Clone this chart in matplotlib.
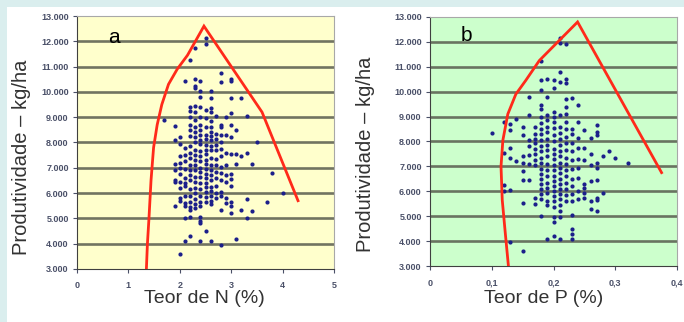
import numpy as np
import matplotlib
matplotlib.use("Agg")
import matplotlib.pyplot as plt
from matplotlib.patches import Rectangle
from matplotlib.ticker import FuncFormatter

plt.rcParams['font.family'] = ['Liberation Sans', 'DejaVu Sans']

# Panel a - N (%) columns and yields (kg/ha)
n_cols = [1.7, 1.9, 2.0, 2.1, 2.2, 2.3, 2.4, 2.5, 2.6, 2.7, 2.8, 2.9,
          3.0, 3.1, 3.2, 3.3, 3.4, 3.5, 3.7, 3.8, 4.0]
n_prod = [
    [8900],
    [8650, 8100, 7150, 6900, 6500, 6450, 5500],
    [8200, 7950, 7450, 7200, 7000, 6750, 6450, 6200, 5800, 5700, 3600],
    [10450, 7800, 7500, 7250, 6950, 6600, 6400, 6300, 5900, 5600, 5500, 5000, 4100],
    [11250, 9400, 9250, 9000, 8700, 8500, 8250, 7850, 7600, 7400, 7100, 6900,
     6700, 6500, 6150, 5900, 5650, 5450, 5350, 5050, 4300],
    [11750, 10500, 10250, 10150, 9450, 9200, 8900, 8600, 8400, 8200, 8000, 7700,
     7500, 7300, 7100, 6900, 6650, 6450, 6200, 6000, 5750, 5550, 5400],
    [10450, 10050, 9800, 9400, 9000, 8700, 8500, 8300, 8100, 7950, 7650, 7450,
     7250, 7000, 6850, 6650, 6400, 6150, 5900, 5650, 5500, 5050, 4900, 4800, 4100],
    [12150, 11900, 9300, 8950, 8600, 8300, 8150, 7900, 7700, 7550, 7300, 7150,
     6950, 6750, 6600, 6400, 6250, 6050, 5850, 5650, 4500],
    [10050, 9750, 9350, 9200, 8850, 8600, 8400, 8250, 8100, 7850, 7700, 7400,
     7100, 6900, 6700, 6500, 6250, 6100, 5900, 5700, 5550, 4100],
    [9050, 8350, 8150, 7900, 7700, 7350, 7100, 6850, 6600, 6300, 6000, 5800],
    [10750, 10400, 8700, 8600, 8300, 8000, 7750, 7450, 7050, 6800, 6500, 6050,
     5900, 5350, 3950],
    [9000, 8300, 7600, 7100, 6700, 6450, 5800, 5600],
    [10500, 10450, 9750, 9150, 8700, 8200, 7550, 6750, 6550, 6300, 5650, 5500, 5200],
    [8500, 7550, 7150, 4200],
    [9750, 7450, 5350],
    [9050, 7600, 5750, 5000],
    [7150, 5300],
    [8000],
    [5650],
    [6800],
    [6000],
]

# boundary line a
bound_n_x = [1.35, 1.37, 1.40, 1.44, 1.49, 1.56, 1.65, 1.78, 1.95, 2.15, 2.47, 3.6, 4.3]
bound_n_y = [3000, 4000, 5000, 6500, 7800, 8700, 9500, 10300, 10900, 11450, 12600, 9200, 5700]

# Panel b - P (%) columns and yields (kg/ha)
p_cols = [0.10, 0.12, 0.13, 0.14, 0.15, 0.16, 0.17, 0.18, 0.19, 0.20, 0.21,
          0.22, 0.23, 0.24, 0.25, 0.26, 0.27, 0.28, 0.29, 0.30, 0.32]
p_prod = [
    [8350],
    [8800, 7550, 6250, 6000],
    [8700, 8450, 7750, 7350, 6050, 3950],
    [8900, 7200],
    [8600, 8250, 7400, 7150, 6800, 6450, 5550, 3600],
    [9800, 9050, 8050, 7800, 7450, 7100, 6450],
    [8600, 8300, 8100, 7950, 7700, 7500, 7250, 7050, 5750, 5500],
    [11250, 10450, 10050, 9450, 9300, 9000, 8750, 8500, 8300, 8050, 7800, 7600,
     7350, 7150, 6900, 6700, 6500, 6300, 6100, 5900, 5700, 5000],
    [10500, 9800, 9050, 8850, 8600, 8400, 8100, 7850, 7650, 7400, 7100, 6850,
     6600, 6350, 6150, 5950, 5600, 5450, 4100],
    [10450, 10150, 9200, 9000, 8800, 8550, 8250, 8000, 7700, 7500, 7300, 7050,
     6850, 6600, 6400, 6200, 6000, 5800, 5600, 5350, 4950, 4750, 4200],
    [12150, 11950, 10800, 10400, 9050, 8600, 8350, 8100, 7850, 7600, 7400, 7150,
     6950, 6750, 6500, 6300, 6100, 5900, 5700, 5450, 5200, 4950, 4100],
    [11900, 10500, 10350, 9700, 9400, 9100, 8800, 8500, 8200, 7950, 7650, 7350,
     7100, 6850, 6600, 6350, 6100, 5850, 5600],
    [9750, 8500, 8300, 7950, 7600, 7250, 6900, 6500, 6200, 5900, 5600, 5050,
     4500, 4300, 4100],
    [9450, 8800, 8150, 7750, 7300, 6950, 6550, 6000, 5700],
    [8450, 7750, 7250, 6300, 6150, 5950, 5750],
    [8150, 7500, 7050, 6400, 5600, 5300],
    [8650, 8400, 8250, 7150, 6950, 6450, 5750, 5650, 5200],
    [7400, 5950],
    [7600],
    [7350],
    [7150],
]

# boundary line b
bound_p_x = [0.127, 0.122, 0.117, 0.115, 0.118, 0.126, 0.139, 0.155, 0.177, 0.209, 0.239, 0.375]
bound_p_y = [3000, 4300, 5650, 7000, 8050, 9100, 9900, 10450, 11250, 12050, 12800, 6750]

y_ticks = [3000, 4000, 5000, 6000, 7000, 8000, 9000, 10000, 11000, 12000, 13000]


def flatten(cols, prods):
    xs, ys = [], []
    for c, vals in zip(cols, prods):
        xs += [c] * len(vals)
        ys += vals
    return xs, ys


fig = plt.figure(figsize=(6.84, 3.22), dpi=100, facecolor='#daeeee')
fig.patches.append(Rectangle((7 / 684, 0), 1, 1 - 7 / 322, transform=fig.transFigure,
                             facecolor='white', edgecolor='none', zorder=-10))

ax_a = fig.add_axes([77 / 684, 53 / 322, 257 / 684, 253 / 322])
ax_b = fig.add_axes([430 / 684, 56 / 322, 247 / 684, 249 / 322])

thou = FuncFormatter(lambda v, p: f"{int(v):,}".replace(",", "."))

panels = [
    (ax_a, '#ffffcc', n_cols, n_prod, bound_n_x, bound_n_y, (0, 5), [0, 1, 2, 3, 4, 5],
     'Teor de N (%)', 'a', (0.6, 12150), lambda v, p: f"{v:g}",
     (0.494, -0.082), (-0.18, 0.443)),
    (ax_b, '#ccffcc', p_cols, p_prod, bound_p_x, bound_p_y, (0, 0.4), [0, 0.1, 0.2, 0.3, 0.4],
     'Teor de P (%)', 'b', (0.05, 12250), lambda v, p: f"{v:g}".replace(".", ","),
     (0.46, -0.095), (-0.224, 0.45)),
]

for (ax, face, cols, prods, bx, by, xlim, xt, xlabel, tag, tagpos, xfmt,
     xlab_pos, ylab_pos) in panels:
    ax.set_facecolor(face)
    xs, ys = flatten(cols, prods)
    for yv in y_ticks[1:-1]:
        ax.axhline(yv, color='#585c4e', lw=1.9, alpha=0.85, zorder=1)
    ax.scatter(xs, ys, s=9, color='#1c1f8a', zorder=3, linewidths=0)
    ax.plot(bx, by, color='#ff2a1a', lw=2, zorder=4, solid_joinstyle='miter')
    ax.set_xlim(*xlim)
    ax.set_ylim(3000, 13000)
    ax.set_xticks(xt)
    ax.set_yticks(y_ticks)
    ax.yaxis.set_major_formatter(thou)
    ax.xaxis.set_major_formatter(FuncFormatter(xfmt))
    ax.tick_params(labelsize=6.5, colors='#4a5068', length=3, width=0.8, pad=6)
    ax.tick_params(axis='y', pad=3)
    for lab in ax.get_xticklabels() + ax.get_yticklabels():
        lab.set_fontweight('bold')
    for s in ['top', 'right']:
        ax.spines[s].set_color('#a8a8a8')
    for s in ['left', 'bottom']:
        ax.spines[s].set_color('#404040')
    ax.set_xlabel(xlabel, fontsize=14, color='#333333')
    ax.set_ylabel('Produtividade – kg/ha', fontsize=14.5, color='#333333')
    ax.xaxis.set_label_coords(*xlab_pos)
    ax.yaxis.set_label_coords(*ylab_pos)
    ax.text(tagpos[0], tagpos[1], tag, fontsize=15, color='black', va='center', zorder=5)

fig.savefig('out.png', dpi=100, facecolor=fig.get_facecolor())
